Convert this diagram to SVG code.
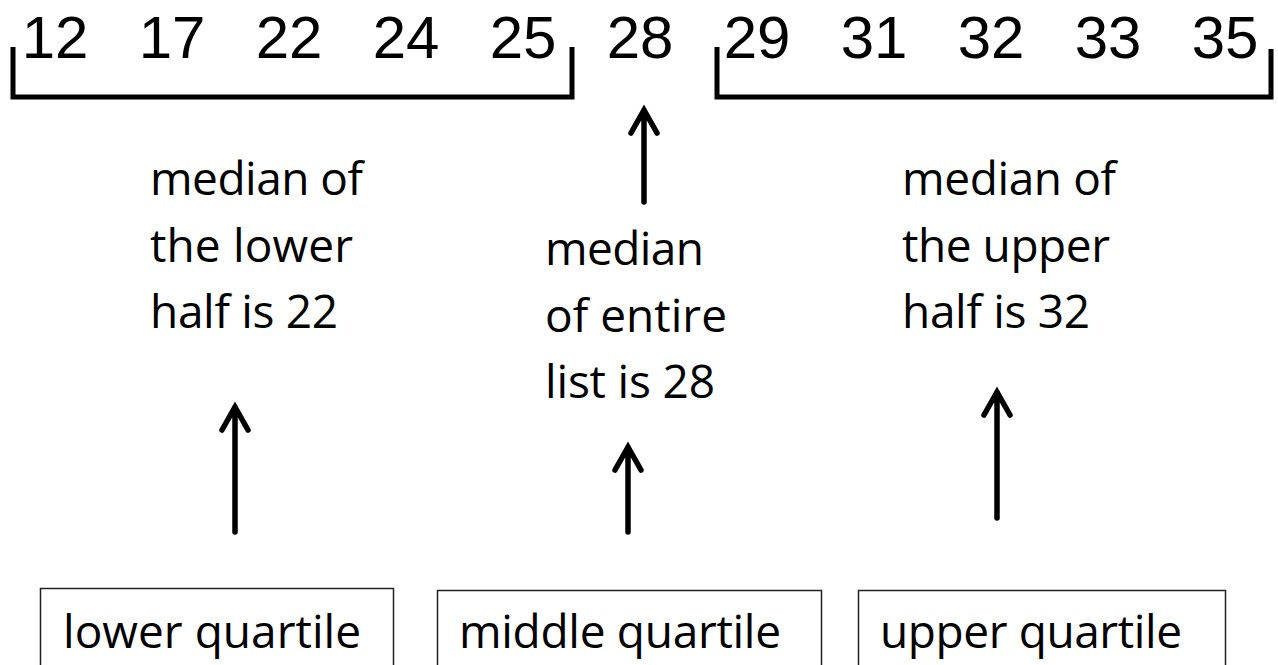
<svg xmlns="http://www.w3.org/2000/svg" width="1278" height="665" viewBox="0 0 1278 665">
<style>
.num{font-family:"Liberation Sans","Open Sans",sans-serif;font-size:60px;fill:#000;text-anchor:middle}
.lbl{font-family:"Open Sans","Liberation Sans",sans-serif;font-size:46px;fill:#000}
.br{fill:none;stroke:#000;stroke-width:5}
.box{fill:#fff;stroke:#222;stroke-width:1.5}
.arr{fill:none;stroke:#000;stroke-width:5.5;stroke-linecap:round;stroke-linejoin:miter}
</style>
<rect width="1278" height="665" fill="#fff"/>
<g id="numbers">
<text class="num" x="55" y="58">12</text>
<text class="num" x="172" y="58">17</text>
<text class="num" x="289" y="58">22</text>
<text class="num" x="406" y="58">24</text>
<text class="num" x="523" y="58">25</text>
<text class="num" x="640" y="58">28</text>
<text class="num" x="757" y="58">29</text>
<text class="num" x="874" y="58">31</text>
<text class="num" x="991" y="58">32</text>
<text class="num" x="1108" y="58">33</text>
<text class="num" x="1225" y="58">35</text>
</g>
<g id="lower-bracket"><path class="br" d="M13,47 V97 H572 V47"/></g>
<g id="upper-bracket"><path class="br" d="M717,47 V97 H1271 V49"/></g>
<g id="label-lower">
<text class="lbl" x="150" y="195" textLength="213">median of</text>
<text class="lbl" x="150" y="262" textLength="203">the lower</text>
<text class="lbl" x="150" y="328" textLength="188">half is 22</text>
</g>
<g id="label-middle">
<text class="lbl" x="545" y="265" textLength="159">median</text>
<text class="lbl" x="545" y="332" textLength="182">of entire</text>
<text class="lbl" x="545" y="398" textLength="170">list is 28</text>
</g>
<g id="label-upper">
<text class="lbl" x="902" y="195" textLength="214">median of</text>
<text class="lbl" x="902" y="262" textLength="208">the upper</text>
<text class="lbl" x="902" y="328" textLength="188">half is 32</text>
</g>
<g id="connectors">
<path class="arr" d="M644,202 V110 M631,133 L644,110 L657,133"/>
<path class="arr" d="M235,532 V407 M222,430 L235,407 L248,430"/>
<path class="arr" d="M628,532 V447 M615,470 L628,447 L641,470"/>
<path class="arr" d="M997,518 V392 M984,415 L997,392 L1010,415"/>
</g>
<g id="box-lower">
<rect class="box" x="40.5" y="588.5" width="353" height="90"/>
<text class="lbl" x="63" y="648" textLength="298">lower quartile</text>
</g>
<g id="box-middle">
<rect class="box" x="437.5" y="590.5" width="384" height="90"/>
<text class="lbl" x="459" y="648" textLength="322">middle quartile</text>
</g>
<g id="box-upper">
<rect class="box" x="858.5" y="590.5" width="367" height="90"/>
<text class="lbl" x="880" y="648" textLength="302">upper quartile</text>
</g>
</svg>
